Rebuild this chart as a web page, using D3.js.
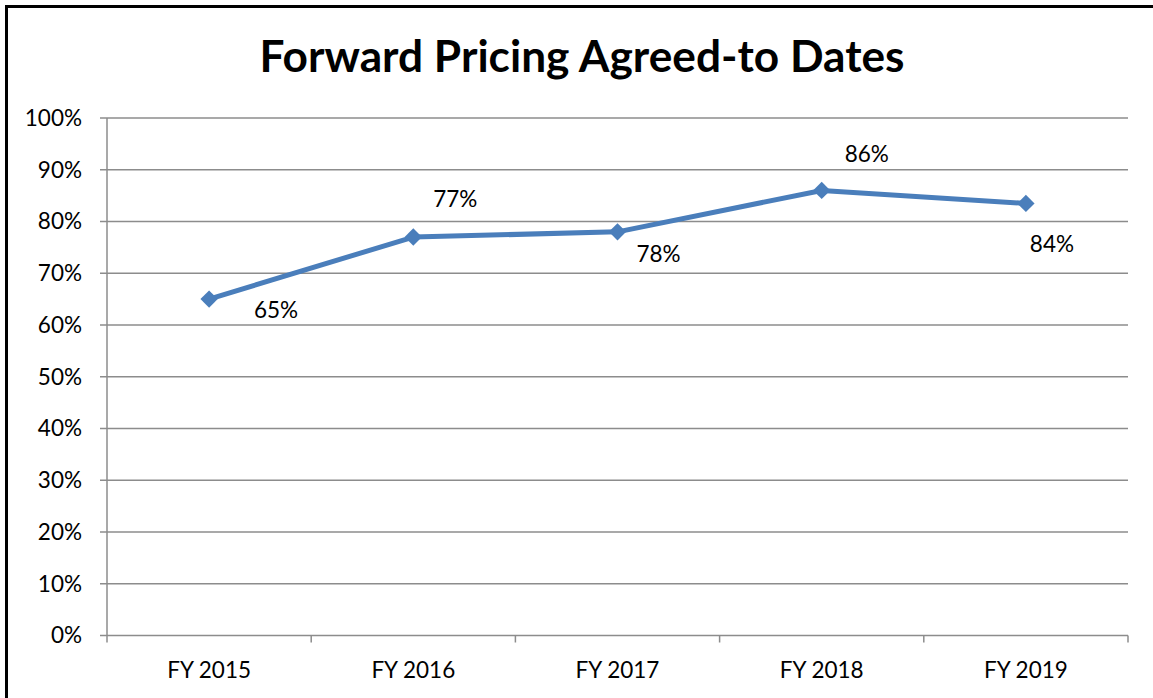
<!DOCTYPE html>
<html><head><meta charset="utf-8">
<script src="https://cdn.jsdelivr.net/npm/d3@7"></script>
<style>body{margin:0;background:#fff;}svg{display:block;}</style>
</head><body>
<script>
const categories = ["FY 2015","FY 2016","FY 2017","FY 2018","FY 2019"];
const values = [65, 77, 78, 86, 83.5];
const valueLabels = ["65%","77%","78%","86%","84%"];
const yTicks = [0,10,20,30,40,50,60,70,80,90,100];
const title = "Forward Pricing Agreed-to Dates";
// label offsets (layout) relative to point
const labelOffsets = [[67,11],[42,-38],[41,22],[45,-36],[26,41]];

(function(){
const W = 1153, H = 698;
const svg = d3.select("body").append("svg").attr("width",W).attr("height",H);
svg.append("rect").attr("x",6.5).attr("y",6.5).attr("width",W+20).attr("height",H+20)
  .attr("fill","#fff").attr("stroke","#000").attr("stroke-width",3);

const font = "Lato, 'Open Sans', sans-serif";
const pl=107, pr=1128, pt=118, pb=635.5;
const x = d3.scaleBand().domain(categories).range([pl,pr]);
const y = d3.scaleLinear().domain([0,100]).range([pb,pt]);

svg.append("text").attr("x",582).attr("y",72).attr("text-anchor","middle")
  .attr("font-family",font).attr("font-weight","bold").attr("font-size",43)
  .attr("textLength",645).attr("lengthAdjust","spacingAndGlyphs").text(title);

const gridColor="#8c8c8c";
svg.append("g").selectAll("line").data(yTicks).join("line")
  .attr("x1",pl-7).attr("x2",pr).attr("y1",d=>y(d)).attr("y2",d=>y(d))
  .attr("stroke",gridColor).attr("stroke-width",1.5);
svg.append("line").attr("x1",pl).attr("x2",pl).attr("y1",pt).attr("y2",pb)
  .attr("stroke",gridColor).attr("stroke-width",1.5);
const xt = categories.map(c=>x(c)).concat([pr]);
svg.append("g").selectAll("line").data(xt).join("line")
  .attr("x1",d=>d).attr("x2",d=>d).attr("y1",pb).attr("y2",pb+7)
  .attr("stroke",gridColor).attr("stroke-width",1.5);

svg.append("g").selectAll("text").data(yTicks).join("text")
  .attr("x",82).attr("y",d=>y(d)).attr("dy","0.35em").attr("text-anchor","end")
  .attr("font-family",font).attr("font-size",22.5).attr("fill","#000").text(d=>d+"%");
svg.append("g").selectAll("text").data(categories).join("text")
  .attr("x",d=>x(d)+x.bandwidth()/2).attr("y",670).attr("dy","0.35em").attr("text-anchor","middle")
  .attr("font-family",font).attr("font-size",22.5).attr("fill","#000").text(d=>d);

const pts = categories.map((c,i)=>[x(c)+x.bandwidth()/2, y(values[i])]);
svg.append("path").attr("d",d3.line()(pts)).attr("fill","none")
  .attr("stroke","#4a7ebb").attr("stroke-width",5).attr("stroke-linejoin","round");
svg.append("g").selectAll("path").data(pts).join("path")
  .attr("d",d3.symbol(d3.symbolSquare,150)())
  .attr("transform",d=>`translate(${d[0]},${d[1]}) rotate(45)`)
  .attr("fill","#4a7ebb");
svg.append("g").selectAll("text").data(pts).join("text")
  .attr("x",(d,i)=>d[0]+labelOffsets[i][0]).attr("y",(d,i)=>d[1]+labelOffsets[i][1])
  .attr("dy","0.35em").attr("text-anchor","middle")
  .attr("font-family",font).attr("font-size",22.5).attr("fill","#000")
  .text((d,i)=>valueLabels[i]);
})();
</script>
</body></html>
